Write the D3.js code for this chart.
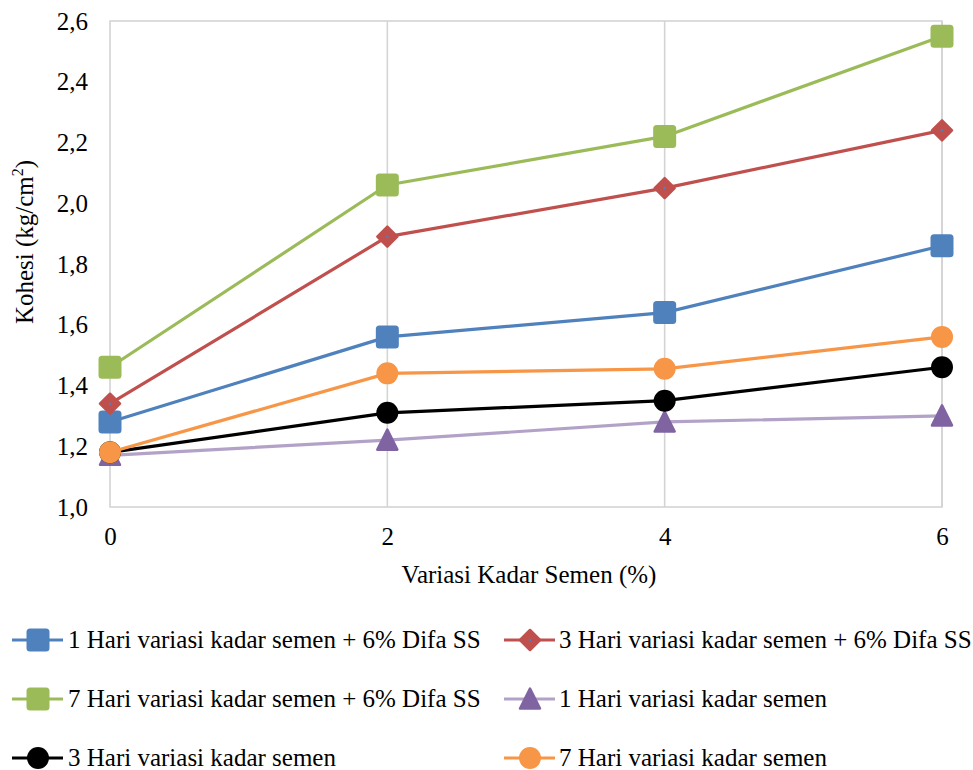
<!DOCTYPE html>
<html>
<head>
<meta charset="utf-8">
<script src="https://cdn.jsdelivr.net/npm/d3@7"></script>
<style>
  html, body { margin: 0; padding: 0; background: #fff; }
</style>
</head>
<body>
<svg id="chart" width="973" height="770" style="font-family: 'Liberation Serif', serif"></svg>
<script>
// Cement content (%) on the x axis
const kadarSemen = [0, 2, 4, 6];
const yTicks = [1.0, 1.2, 1.4, 1.6, 1.8, 2.0, 2.2, 2.4, 2.6];
const xTicks = [0, 2, 4, 6];

// Cohesion values (kg/cm²) per curing series
const hari1Difa = [1.28, 1.56, 1.64, 1.86];
const hari3Difa = [1.34, 1.89, 2.05, 2.24];
const hari7Difa = [1.46, 2.06, 2.22, 2.55];
const hari1 = [1.17, 1.22, 1.28, 1.30];
const hari3 = [1.18, 1.31, 1.35, 1.46];
const hari7 = [1.18, 1.44, 1.455, 1.56];

const seriesNames = [
  "1 Hari variasi kadar semen + 6% Difa SS",
  "3 Hari variasi kadar semen + 6% Difa SS",
  "7 Hari variasi kadar semen + 6% Difa SS",
  "1 Hari variasi kadar semen",
  "3 Hari variasi kadar semen",
  "7 Hari variasi kadar semen"
];

const series = [
  { name: seriesNames[0], values: hari1Difa, line: "#4f81bd", fill: "#4f81bd", shape: "square" },
  { name: seriesNames[1], values: hari3Difa, line: "#c0504d", fill: "#c0504d", shape: "diamond" },
  { name: seriesNames[2], values: hari7Difa, line: "#9bbb59", fill: "#9bbb59", shape: "square" },
  { name: seriesNames[3], values: hari1, line: "#b3a2c7", fill: "#8064a2", shape: "triangle" },
  { name: seriesNames[4], values: hari3, line: "#000000", fill: "#000000", shape: "circle" },
  { name: seriesNames[5], values: hari7, line: "#f79646", fill: "#f79646", shape: "circle" }
];

const FONT = "Liberation Serif";
const svg = d3.select("#chart");
const plot = { left: 110, right: 942, top: 21, bottom: 507 };

const x = d3.scaleLinear().domain([0, 6]).range([plot.left, plot.right]);
const y = d3.scaleLinear().domain([1.0, 2.6]).range([plot.bottom, plot.top]);

const gridColor = "#d4d4d4";

function serifText(sel, size) {
  return sel.attr("font-family", FONT)
    .style("font-family", FONT)
    .style("font-size", size + "px")
    .attr("fill", "#000");
}

// vertical gridlines
svg.append("g")
  .selectAll("line")
  .data(xTicks.filter(d => d > 0))
  .join("line")
  .attr("x1", d => x(d)).attr("x2", d => x(d))
  .attr("y1", plot.top).attr("y2", plot.bottom)
  .attr("stroke", gridColor).attr("stroke-width", 1.6);

// plot area frame
svg.append("rect")
  .attr("x", plot.left).attr("y", plot.top)
  .attr("width", plot.right - plot.left).attr("height", plot.bottom - plot.top)
  .attr("fill", "none").attr("stroke", gridColor).attr("stroke-width", 1.6);

// y axis tick labels
const yAxis = d3.axisLeft(y).tickValues(yTicks).tickSize(0).tickPadding(22)
  .tickFormat(d => d3.format(".1f")(d).replace(".", ","));
const gy = svg.append("g").attr("transform", `translate(${plot.left},0)`).call(yAxis);
gy.attr("font-family", FONT).attr("font-size", 25);
gy.select(".domain").remove();
serifText(gy.selectAll("text"), 25);

// x axis tick labels
const xAxis = d3.axisBottom(x).tickValues(xTicks).tickSize(0).tickPadding(20)
  .tickFormat(d3.format("d"));
const gx = svg.append("g").attr("transform", `translate(0,${plot.bottom})`).call(xAxis);
gx.attr("font-family", FONT).attr("font-size", 25);
gx.select(".domain").remove();
serifText(gx.selectAll("text"), 25);

// axis titles
const titles = svg.append("g").attr("font-family", FONT);
serifText(titles.append("text"), 25)
  .attr("x", 529).attr("y", 583)
  .attr("text-anchor", "middle")
  .text("Variasi Kadar Semen (%)");

const yTitle = serifText(titles.append("text"), 25)
  .attr("transform", "translate(33,242) rotate(-90)")
  .attr("text-anchor", "middle");
yTitle.append("tspan").text("Kohesi (kg/cm");
yTitle.append("tspan").style("font-size", "16px").attr("dy", -10).text("2");
yTitle.append("tspan").attr("dy", 10).text(")");

// marker drawing
const M = 23;
function drawMarker(g, s, cx, cy) {
  if (s.shape === "square") {
    g.append("rect")
      .attr("x", cx - M / 2).attr("y", cy - M / 2)
      .attr("width", M).attr("height", M).attr("rx", 3.5)
      .attr("fill", s.fill);
  } else if (s.shape === "diamond") {
    const r = 10;
    g.append("path")
      .attr("d", `M${cx},${cy - r}L${cx + r},${cy}L${cx},${cy + r}L${cx - r},${cy}Z`)
      .attr("fill", s.fill).attr("stroke", s.fill).attr("stroke-width", 2.5)
      .attr("stroke-linejoin", "round");
    g.append("circle").attr("cx", cx).attr("cy", cy).attr("r", 1.2).attr("fill", "#4f81bd");
  } else if (s.shape === "triangle") {
    const h = 19, w = 20;
    g.append("path")
      .attr("d", `M${cx},${cy - h / 2 - 1}L${cx + w / 2},${cy + h / 2}L${cx - w / 2},${cy + h / 2}Z`)
      .attr("fill", s.fill).attr("stroke", s.fill).attr("stroke-width", 2.5)
      .attr("stroke-linejoin", "round");
  } else {
    g.append("circle").attr("cx", cx).attr("cy", cy).attr("r", 11).attr("fill", s.fill);
  }
}

const line = d3.line().x((d, i) => x(kadarSemen[i])).y(d => y(d));

series.forEach(s => {
  const g = svg.append("g");
  g.append("path")
    .datum(s.values)
    .attr("d", line)
    .attr("fill", "none")
    .attr("stroke", s.line)
    .attr("stroke-width", 3.2)
    .attr("stroke-linejoin", "round");
  s.values.forEach((v, i) => drawMarker(g, s, x(kadarSemen[i]), y(v)));
});

// legend
const legendCols = [{ lx: 12, mx: 38, tx: 68 }, { lx: 504, mx: 530, tx: 559 }];
const legendRows = [640, 699, 758];
series.forEach((s, i) => {
  const col = legendCols[i % 2];
  const cy = legendRows[Math.floor(i / 2)];
  const g = svg.append("g");
  g.append("line")
    .attr("x1", col.lx).attr("x2", col.lx + 51)
    .attr("y1", cy).attr("y2", cy)
    .attr("stroke", s.line).attr("stroke-width", 3.2);
  drawMarker(g, s, col.mx, cy);
  serifText(g.append("text"), 25)
    .attr("x", col.tx).attr("y", cy + 8)
    .text(s.name);
});
</script>
</body>
</html>
